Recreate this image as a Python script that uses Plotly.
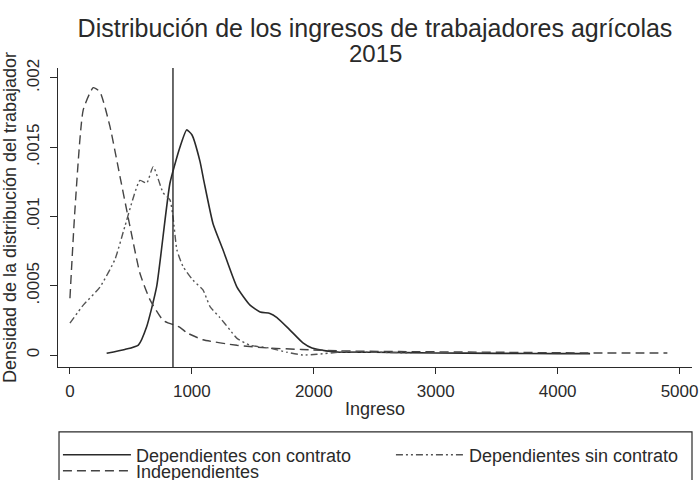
import plotly.graph_objects as go

# ---- data ----
title_line1 = "Distribución de los ingresos de trabajadores agrícolas"
title_line2 = "2015"
x_title = "Ingreso"
y_title = "Densidad de la distribución del trabajador"

series_names = ["Dependientes con contrato", "Dependientes sin contrato", "Independientes"]

con_x = [301, 450, 561, 629, 711, 820, 902, 957, 1000, 1066, 1100, 1173, 1255, 1370, 1477,
         1560, 1640, 1698, 1805, 1911, 1985, 2100, 2215, 2500, 3000, 3500, 4000, 4266]
con_y = [0.000012, 0.00004, 0.000072, 0.000204, 0.000493, 0.00124, 0.0015, 0.001625, 0.00159,
         0.00140, 0.00125, 0.00095, 0.00076, 0.00049, 0.00036, 0.00031, 0.00030, 0.00027,
         0.00018, 0.000087, 0.00005, 0.00003, 0.00002, 0.00002, 0.000015, 0.000012, 0.00001, 0.00001]

sin_x = [0, 109, 246, 369, 451, 574, 629, 683, 765, 820, 845, 877, 927, 1009, 1091, 1149, 1230,
         1313, 1370, 1477, 1640, 1780, 1911, 2026, 2215, 2500, 2800]
sin_y = [0.00023, 0.00036, 0.00049, 0.00069, 0.00093, 0.00126, 0.00124, 0.00136, 0.00117,
         0.00112, 0.00100, 0.00076, 0.00064, 0.00054, 0.00047, 0.00035, 0.00027, 0.00018,
         0.00012, 0.00007, 0.00005, 0.00002, 0.0, 0.000005, 0.00002, 0.00002, 0.000015]

ind_x = [0, 41, 109, 191, 246, 328, 410, 492, 574, 656, 765, 902, 960, 1091, 1370, 1640, 1900,
         2200, 2700, 3500, 4200, 4900]
ind_y = [0.00041, 0.00105, 0.00177, 0.00193, 0.0019, 0.00165, 0.00129, 0.00093, 0.00059, 0.0004,
         0.00025, 0.0002, 0.00016, 0.00011, 0.00007, 0.00005, 0.00004, 0.00003, 0.000025, 0.00002,
         0.000015, 0.000015]

vline_x = 845

x_tickvals = [0, 1000, 2000, 3000, 4000, 5000]
x_ticktext = ["0", "1000", "2000", "3000", "4000", "5000"]
y_tickvals = [0, 0.0005, 0.001, 0.0015, 0.002]
y_ticktext = ["0", ".0005", ".001", ".0015", ".002"]

# ---- figure ----
FONT = "Liberation Sans, Arial, sans-serif"
INK = "#2a2a2a"

fig = go.Figure()
fig.add_trace(go.Scatter(x=con_x, y=con_y, name=series_names[0], mode="lines", legend="legend",
                         line=dict(color=INK, width=1.6, shape="spline", smoothing=0.5)))
fig.add_trace(go.Scatter(x=sin_x, y=sin_y, name=series_names[1], mode="lines", legend="legend",
                         line=dict(color="#555555", width=1.4, shape="spline", smoothing=0.5,
                                   dash="7px,3px,2px,3px,2px,3px")))
fig.add_trace(go.Scatter(x=ind_x, y=ind_y, name=series_names[2], mode="lines", legend="legend2",
                         line=dict(color="#444444", width=1.4, shape="spline", smoothing=0.5,
                                   dash="9px,5px")))

fig.add_vline(x=vline_x, line=dict(color=INK, width=1.4))

# legend frame
fig.add_shape(type="rect", xref="paper", yref="paper",
              x0=0.0016, x1=1.0, y0=-0.42, y1=-0.217,
              line=dict(color=INK, width=1.2), fillcolor="rgba(0,0,0,0)", layer="above")

# second title line
fig.add_annotation(text=title_line2, xref="paper", yref="paper", x=0.5, y=1.050,
                   xanchor="center", yanchor="middle", showarrow=False,
                   font=dict(size=24, family=FONT, color=INK))

legend_common = dict(orientation="h", xanchor="left", yanchor="top",
                     itemwidth=68, entrywidth=250, entrywidthmode="pixels",
                     font=dict(size=18, family=FONT, color=INK),
                     bgcolor="rgba(0,0,0,0)", borderwidth=0, tracegroupgap=0)

fig.update_layout(
    width=700, height=480,
    margin=dict(l=58, r=8, t=68, b=113, autoexpand=False),
    paper_bgcolor="white", plot_bgcolor="white",
    font=dict(family=FONT, color=INK),
    title=dict(text=title_line1, x=0.5, xref="paper", xanchor="center",
               yref="container", y=1 - 28 / 480, yanchor="middle",
               font=dict(size=25, family=FONT, color=INK)),
    showlegend=True,
    legend=dict(x=-0.0001, y=-0.2324, **legend_common),
    legend2=dict(x=-0.0001, y=-0.2860, **legend_common),
    xaxis=dict(range=[-98, 5102], tickmode="array", tickvals=x_tickvals, ticktext=x_ticktext,
               showgrid=False, zeroline=False, showline=True, linecolor=INK, linewidth=1.2,
               ticks="outside", ticklen=6, tickwidth=1.2, tickcolor=INK,
               ticklabelstandoff=2, tickfont=dict(size=17),
               title=dict(text=x_title, standoff=2, font=dict(size=18)), automargin=False),
    yaxis=dict(range=[-0.0000866, 0.002072], tickmode="array", tickvals=y_tickvals,
               ticktext=y_ticktext, tickangle=-90,
               showgrid=False, zeroline=False, showline=True, linecolor=INK, linewidth=1.2,
               ticks="outside", ticklen=7, tickwidth=1.2, tickcolor=INK,
               ticklabelstandoff=4, tickfont=dict(size=17),
               title=dict(text=y_title, standoff=4, font=dict(size=18)), automargin=False),
)

fig.write_html("out.html", config={"displayModeBar": False},
               post_script="document.body.style.margin='0px';")
